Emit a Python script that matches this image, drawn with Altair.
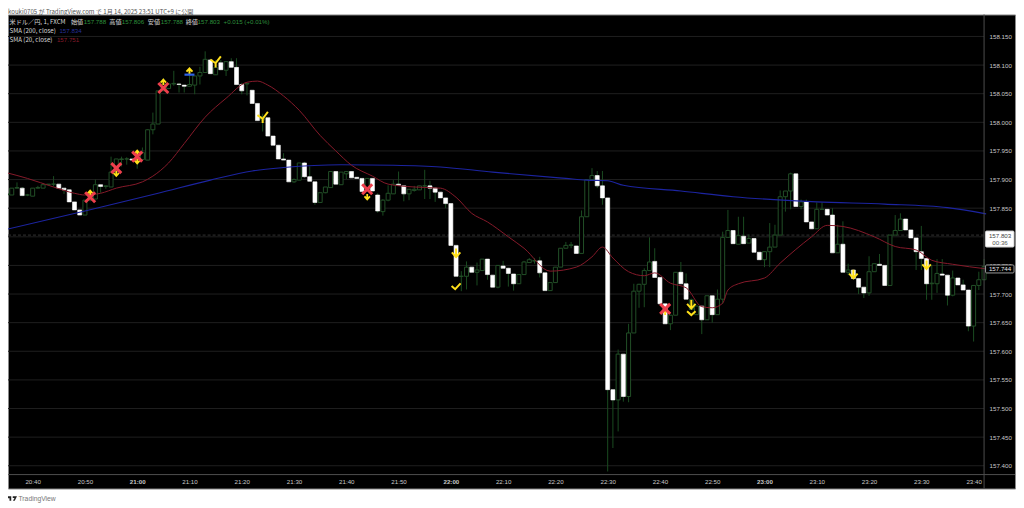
import altair as alt
import pandas as pd

# Each row: open, high, low, close. One bar per minute, first bar five minutes before 20:40.
first_minute = -5
bars_2035 = [
(157.873,157.875,157.873,157.875),(157.873,157.885,157.873,157.885),(157.885,157.895,157.884,157.886),(157.885,157.887,157.871,157.872),
(157.873,157.875,157.871,157.873),(157.871,157.885,157.871,157.885),(157.885,157.889,157.884,157.886),(157.885,157.894,157.885,157.891),
(157.891,157.892,157.891,157.892),(157.892,157.906,157.888,157.892),(157.892,157.892,157.885,157.885),(157.885,157.885,157.875,157.882),
(157.882,157.882,157.861,157.861),(157.861,157.861,157.847,157.847),(157.847,157.847,157.838,157.838),(157.838,157.864,157.838,157.864),
(157.864,157.880,157.862,157.874),(157.866,157.900,157.866,157.891),(157.891,157.891,157.877,157.888),(157.888,157.890,157.884,157.889),
(157.887,157.940,157.887,157.913),(157.913,157.936,157.913,157.936),(157.935,157.940,157.923,157.936),(157.936,157.939,157.926,157.936),
(157.936,157.936,157.934,157.934),(157.935,157.950,157.919,157.935),(157.935,157.956,157.935,157.947),(157.934,157.988,157.934,157.987),
(157.987,158.017,157.979,157.997),(157.997,158.055,157.997,158.055),(158.055,158.077,158.055,158.067),(158.059,158.067,158.059,158.067),
(158.067,158.090,158.064,158.068),(158.067,158.069,158.052,158.066),(158.065,158.065,158.052,158.063),(158.063,158.085,158.063,158.066),
(158.065,158.081,158.049,158.081),(158.081,158.097,158.066,158.087),(158.087,158.124,158.087,158.110),(158.109,158.109,158.085,158.085),
(158.083,158.109,158.083,158.096),(158.104,158.109,158.091,158.092),(158.091,158.106,158.081,158.106),(158.106,158.112,158.096,158.096),
(158.096,158.112,158.066,158.066),(158.066,158.069,158.049,158.055),
]
bars_2121 = [
(158.067,158.069,158.047,158.068),(158.056,158.056,158.033,158.033),(158.033,158.033,158.003,158.003),(158.004,158.015,157.984,158.010),
(158.008,158.008,157.976,157.976),(157.976,157.976,157.960,157.960),(157.960,157.960,157.936,157.936),(157.936,157.946,157.934,157.934),
(157.934,157.934,157.896,157.896),(157.896,157.902,157.894,157.900),(157.899,157.929,157.899,157.929),(157.929,157.931,157.903,157.905),
(157.905,157.923,157.897,157.897),(157.896,157.896,157.856,157.860),(157.860,157.877,157.860,157.877),(157.877,157.887,157.876,157.887),
(157.886,157.914,157.886,157.914),(157.914,157.914,157.892,157.892),(157.891,157.913,157.891,157.913),(157.910,157.914,157.901,157.914),
(157.914,157.914,157.903,157.903),(157.904,157.904,157.902,157.902),(157.902,157.902,157.879,157.879),(157.880,157.902,157.880,157.902),
(157.902,157.902,157.880,157.880),(157.873,157.876,157.842,157.845),(157.844,157.866,157.837,157.864),(157.864,157.890,157.862,157.876),
(157.875,157.899,157.875,157.892),(157.892,157.914,157.890,157.890),(157.889,157.889,157.862,157.875),(157.875,157.883,157.864,157.883),
(157.881,157.889,157.879,157.883),(157.882,157.889,157.882,157.889),(157.889,157.917,157.866,157.889),(157.889,157.898,157.866,157.885),
(157.885,157.887,157.861,157.878),(157.878,157.878,157.868,157.868),(157.868,157.868,157.850,157.858),(157.858,157.858,157.785,157.785),
(157.785,157.785,157.731,157.731),(157.731,157.740,157.705,157.731),(157.731,157.757,157.708,157.747),(157.747,157.747,157.738,157.738),
(157.738,157.755,157.715,157.742),(157.741,157.761,157.741,157.761),
]
bars_2207 = [
(157.761,157.761,157.725,157.734),(157.733,157.733,157.712,157.712),(157.712,157.750,157.710,157.750),(157.749,157.758,157.745,157.745),
(157.745,157.746,157.713,157.736),(157.735,157.735,157.706,157.718),(157.718,157.734,157.718,157.734),(157.734,157.758,157.734,157.756),
(157.755,157.763,157.755,157.760),(157.758,157.763,157.753,157.758),(157.758,157.765,157.729,157.737),(157.737,157.737,157.706,157.706),
(157.706,157.720,157.706,157.720),(157.720,157.747,157.720,157.747),(157.747,157.780,157.747,157.780),(157.780,157.791,157.780,157.785),
(157.785,157.791,157.780,157.786),(157.784,157.784,157.771,157.771),(157.771,157.846,157.771,157.835),(157.835,157.900,157.835,157.900),
(157.900,157.920,157.900,157.907),(157.907,157.915,157.885,157.889),(157.889,157.915,157.856,157.868),(157.868,157.868,157.390,157.533),
(157.533,157.533,157.431,157.515),(157.515,157.603,157.460,157.595),(157.595,157.595,157.512,157.521),(157.521,157.648,157.511,157.632),
(157.632,157.718,157.632,157.705),(157.705,157.718,157.676,157.717),(157.717,157.745,157.677,157.741),(157.741,157.799,157.741,157.756),
(157.757,157.780,157.729,157.729),(157.729,157.729,157.683,157.683),(157.683,157.683,157.648,157.648),(157.648,157.663,157.637,157.663),
(157.663,157.738,157.663,157.738),(157.738,157.756,157.718,157.718),(157.718,157.736,157.691,157.691),(157.673,157.692,157.673,157.690),
(157.664,157.679,157.664,157.679),(157.679,157.679,157.630,157.655),(157.655,157.697,157.655,157.697),(157.697,157.697,157.650,157.664),
(157.664,157.708,157.664,157.691),(157.691,157.809,157.683,157.799),(157.799,157.847,157.799,157.811),
]
bars_2254 = [
(157.811,157.811,157.788,157.788),(157.787,157.835,157.787,157.802),(157.801,157.835,157.788,157.788),(157.789,157.804,157.789,157.797),
(157.797,157.797,157.773,157.773),(157.773,157.773,157.760,157.760),(157.760,157.774,157.747,157.774),(157.774,157.824,157.747,157.782),
(157.782,157.821,157.782,157.803),(157.803,157.881,157.803,157.870),(157.870,157.880,157.844,157.880),(157.880,157.912,157.848,157.910),
(157.910,157.910,157.853,157.853),(157.853,157.865,157.848,157.861),(157.861,157.865,157.826,157.826),(157.826,157.826,157.814,157.814),
(157.814,157.860,157.814,157.848),(157.848,157.860,157.847,157.848),(157.848,157.848,157.838,157.838),(157.838,157.850,157.772,157.772),
(157.772,157.821,157.772,157.787),(157.787,157.827,157.738,157.738),(157.738,157.753,157.733,157.742),(157.742,157.742,157.727,157.727),
(157.727,157.727,157.700,157.712),(157.712,157.712,157.693,157.702),(157.702,157.766,157.697,157.739),(157.739,157.753,157.739,157.753),
(157.752,157.770,157.750,157.750),(157.750,157.750,157.715,157.715),(157.715,157.803,157.715,157.803),(157.803,157.838,157.803,157.811),
(157.811,157.841,157.811,157.831),(157.831,157.831,157.812,157.812),(157.812,157.812,157.798,157.798),(157.798,157.798,157.742,157.774),
(157.774,157.819,157.742,157.762),(157.762,157.762,157.690,157.718),(157.718,157.751,157.690,157.719),(157.718,157.761,157.702,157.736),
(157.735,157.761,157.733,157.733),(157.733,157.733,157.680,157.698),(157.698,157.741,157.696,157.728),(157.728,157.728,157.716,157.716),
(157.716,157.725,157.707,157.707),(157.707,157.707,157.635,157.644),(157.644,157.715,157.617,157.715),(157.715,157.739,157.707,157.725),
(157.725,157.761,157.725,157.748),
]

sma20_minute = [-5,-1,4,8,10,13,16,21,23,26,29,33,37,41,43,45,48,51,55,58,61,65,68,73,78,81,84,87,91,94,99,104,107,109,111,114,117,119,122,125,128,130,132,133,135,140,143,149,152,155,161,165,169,172,176,182.4]
sma20_price = [157.912,157.902,157.887,157.876,157.873,157.876,157.885,157.896,157.906,157.929,157.963,158.009,158.042,158.070,158.072,158.065,158.046,158.021,157.977,157.950,157.925,157.906,157.892,157.887,157.885,157.869,157.841,157.826,157.800,157.780,157.740,157.747,157.765,157.782,157.763,157.739,157.732,157.737,157.719,157.711,157.678,157.676,157.684,157.707,157.718,157.728,157.754,157.800,157.820,157.818,157.800,157.783,157.777,157.759,157.752,157.744]
sma200_minute = [-5,10,24,34,42,48,59,69,78,88,102,106,110,113,124,134,150,163,175,182.4]
sma200_price = [157.813,157.845,157.876,157.899,157.915,157.921,157.926,157.925,157.922,157.913,157.902,157.899,157.898,157.890,157.880,157.870,157.861,157.857,157.851,157.840]

x_labels = ["20:40","20:50","21:00","21:10","21:20","21:30","21:40","21:50","22:00","22:10","22:20","22:30","22:40","22:50","23:00","23:10","23:20","23:30","23:40"]
y_ticks = [158.15,158.10,158.05,158.00,157.95,157.90,157.85,157.80,157.75,157.70,157.65,157.60,157.55,157.50,157.45,157.40]
last_price = 157.803

red_x_minute = [11,16,20,25,64,121]
red_x_price = [157.869,157.920,157.940,158.060,157.883,157.674]
small_up_minute = [11,20,25,121]
small_up_price = [157.876,157.946,158.070,157.668]
small_down_minute = [16,20,64]
small_down_price = [157.911,157.933,157.870]
big_down_minute = [81,126,157,171]
big_down_price = [157.772,157.682,157.735,157.751]
chevron_minute = [126]
chevron_price = [157.667]
check_minute = [81]
check_price = [157.714]
star_minute = [35,44]
star_price = [158.106,158.009]
cap_minute = [30]
cap_price = [158.085]

W, H = 1009, 475
x_scale = alt.Scale(domain=[-4.716, 187.92], nice=False, zero=False, padding=0)
y_scale = alt.Scale(domain=[157.3602, 158.1884], nice=False, zero=False)
rows = bars_2035 + bars_2121 + bars_2207 + bars_2254
df = pd.DataFrame(rows, columns=["open", "high", "low", "close"])
df["minute"] = range(first_minute, first_minute + len(df))
df["down"] = df["close"] < df["open"]

FONT = "Liberation Sans"
JP = "Noto Sans CJK JP"
YELLOW = "#ffe01a"
label_expr = "[" + ",".join(f"'{t}'" for t in x_labels) + "][datum.value/10]"
x_axis = alt.Axis(values=[i * 10 for i in range(len(x_labels))], labelExpr=label_expr, title=None, grid=False,
                  domain=False, ticks=False, labelFont=FONT, labelFontSize=6.2, labelColor="#c8c8c8",
                  labelPadding=-7, labelBaseline="middle", labelOverlap=False, labelFlush=False, labelBound=False,
                  labelFontWeight={"condition": {"test": "datum.value % 60 == 20", "value": "bold"}, "value": "normal"})
y_axis = alt.Axis(values=y_ticks, format=".3f", orient="right", title=None, grid=False, domain=False, ticks=False,
                  labelFont=FONT, labelFontSize=6.2, labelColor="#c8c8c8", labelPadding=-26, labelAlign="left",
                  labelOverlap=False, labelFlush=False, labelBound=False)


def X(field="minute"):
    return alt.X(f"{field}:Q", scale=x_scale, axis=x_axis)


def Y(field):
    return alt.Y(f"{field}:Q", scale=y_scale, axis=y_axis)


def text(s, px, py, color, size=6.2, font=JP, align="left", weight="normal"):
    return alt.Chart(pd.DataFrame({"a": [0]})).mark_text(
        align=align, baseline="middle", font=font, fontSize=size, color=color, fontWeight=weight
    ).encode(x=alt.value(px), y=alt.value(py), text=alt.value(s))


def symbols(minutes, prices, path, color, size, sw=2.0):
    d = pd.DataFrame({"minute": minutes, "price": prices})
    return alt.Chart(d).mark_point(shape=path, size=size, opacity=1, filled=False, stroke=color, strokeWidth=sw).encode(x=X(), y=Y("price"))


grid = alt.Chart(pd.DataFrame({"p": y_ticks})).mark_rule(color="#1f1f1f", strokeWidth=1).encode(
    x=alt.value(0), x2=alt.value(978), y=Y("p"))
price_line = alt.Chart(pd.DataFrame({"p": [last_price]})).mark_rule(color="#333333", strokeWidth=1, strokeDash=[3, 2]).encode(
    x=alt.value(0), x2=alt.value(978), y=Y("p"))
wicks = alt.Chart(df).mark_rule(color="#1a4a20", strokeWidth=1, clip=True).encode(
    x=X(), y=Y("low"), y2="high:Q")
bodies = alt.Chart(df).mark_bar(size=4, orient="vertical", clip=True).encode(
    x=X(), y=Y("open"), y2="close:Q",
    fill=alt.condition("datum.down", alt.value("#ffffff"), alt.value("#000000")),
    stroke=alt.condition("datum.down", alt.value("#ffffff"), alt.value("#224f27")),
    strokeWidth=alt.condition("datum.down", alt.value(0.6), alt.value(1)))
sma200 = alt.Chart(pd.DataFrame({"minute": sma200_minute, "price": sma200_price})).mark_line(
    color="#1c24a0", strokeWidth=1.1, clip=True, interpolate="monotone").encode(x=X(), y=Y("price"))
sma20 = alt.Chart(pd.DataFrame({"minute": sma20_minute, "price": sma20_price})).mark_line(
    color="#861a2a", strokeWidth=1, clip=True, interpolate="monotone").encode(x=X(), y=Y("price"))

UP = "M-1,0.1L0,-1L1,0.1M0,-1L0,1"
DOWN = "M-1,-0.1L0,1L1,-0.1M0,1L0,-1"
CHECK = "M-1,0L-0.2,0.7L1,-0.6"
CHEV = "M-1,-0.4L0,0.5L1,-0.4"
STAR = "M-1,-0.4L0,0.3L1,-1M0,0.3L0,1.1"
CROSS = "M-1,-1L1,1M1,-1L-1,1"
CAP = "M-1,0.2L1,0.2"

markers = [
    symbols(small_up_minute, small_up_price, UP, YELLOW, 30, 1.8),
    symbols(small_down_minute, small_down_price, DOWN, YELLOW, 30, 1.8),
    symbols(red_x_minute, red_x_price, CROSS, "#ee3f4c", 100, 3),
    symbols(big_down_minute, big_down_price, DOWN, YELLOW, 72, 2),
    symbols(chevron_minute, chevron_price, CHEV, YELLOW, 72, 2),
    symbols(check_minute, check_price, CHECK, YELLOW, 81, 2),
    symbols(star_minute, star_price, STAR, YELLOW, 110, 2),
    symbols(cap_minute, [p + 0.004 for p in cap_price], UP, YELLOW, 36, 2),
    symbols(cap_minute, cap_price, CAP, "#2f62e6", 100, 2.2),
]

sep_v = alt.Chart(pd.DataFrame({"a": [0]})).mark_rule(color="#4d4d4d").encode(
    x=alt.value(978), y=alt.value(0), y2=alt.value(H))
sep_h = alt.Chart(pd.DataFrame({"a": [0]})).mark_rule(color="#4d4d4d").encode(
    y=alt.value(461), x=alt.value(0), x2=alt.value(W))

box_last = alt.Chart(pd.DataFrame({"a": [0]})).mark_rect(fill="#ffffff", stroke="#cfcfcf", cornerRadius=1).encode(
    x=alt.value(979.5), x2=alt.value(1008), y=alt.value(217), y2=alt.value(233))
box_sma = alt.Chart(pd.DataFrame({"a": [0]})).mark_rect(fill="#000000", stroke="#9a9a9a", cornerRadius=1).encode(
    x=alt.value(979.5), x2=alt.value(1008), y=alt.value(251), y2=alt.value(259))

header = [
    text("kouki0705 が TradingView.com で 1月 14, 2025 23:51 UTC+9 に公開", 0, -2, "#555555", 6.1),
    text("米ドル／円, 1, FXCM", 1.5, 8, "#d8d8d8"),
    text("始値", 63, 8, "#d8d8d8"), text("157.788", 76, 8, "#2e8f3c", font=FONT),
    text("高値", 101.5, 8, "#d8d8d8"), text("157.806", 114, 8, "#2e8f3c", font=FONT),
    text("安値", 140, 8, "#d8d8d8"), text("157.788", 153, 8, "#2e8f3c", font=FONT),
    text("終値", 178, 8, "#d8d8d8"), text("157.803", 190, 8, "#2e8f3c", font=FONT),
    text("+0.015 (+0.01%)", 216, 8, "#2e8f3c", font=FONT),
    text("SMA (200, close)", 1.5, 17, "#d8d8d8"), text("157.834", 51.5, 17, "#26309c", font=FONT),
    text("SMA (20, close)", 1.5, 26, "#d8d8d8"), text("157.751", 49, 26, "#8a1c2c", font=FONT),
    text("157.803", 994, 222, "#444444", font=FONT, align="center"),
    text("00:36", 994, 229, "#555555", font=FONT, align="center"),
    text("157.744", 994, 255, "#e8e8e8", font=FONT, align="center"),
    text("TradingView", 10.5, 485, "#777777", 6.8, font="Liberation Sans"),
]
logo = alt.Chart(pd.DataFrame({"a": [0]})).mark_point(
    shape="M-1,-0.45L-0.15,-0.45L-0.15,0.45L-0.5,0.45L-0.5,-0.05L-1,-0.05ZM0.15,-0.45L1,-0.45L0.55,0.45L0.2,0.45L0.5,-0.1L0.15,-0.1Z",
    size=100, filled=True, fill="#222222", strokeWidth=0, opacity=1
).encode(x=alt.value(4), y=alt.value(485))

chart = alt.layer(grid, price_line, wicks, bodies, sma200, sma20, *markers, sep_v, sep_h, box_last, box_sma, *header, logo).properties(
    width=W, height=H,
    padding={"left": 0, "top": 6, "right": 1, "bottom": 15},
    autosize=alt.AutoSizeParams(type="none"),
    background="#ffffff",
).configure_view(fill="#000000", stroke="#8a8a8a")

chart.save("out.html", embed_options={"renderer": "svg", "actions": False})
